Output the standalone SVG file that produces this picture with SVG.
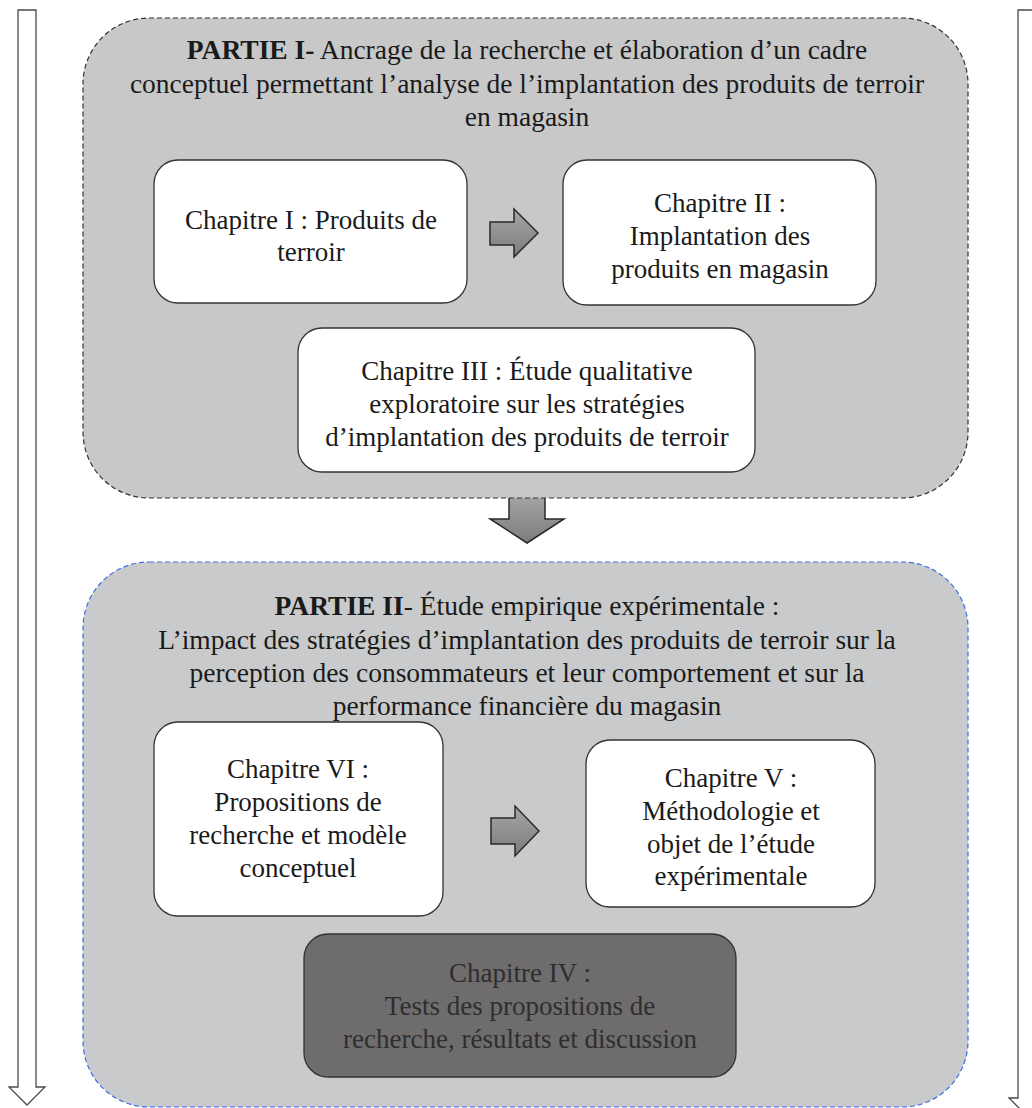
<svg xmlns="http://www.w3.org/2000/svg" width="1032" height="1108" viewBox="0 0 1032 1108">
<defs>
<linearGradient id="ag" x1="0" y1="0" x2="0" y2="1">
<stop offset="0" stop-color="#a5a5a6"/>
<stop offset="1" stop-color="#7c7c7d"/>
</linearGradient>
<style>
text{font-family:"Liberation Serif","Times New Roman",serif;font-size:27px;fill:#1a1a1a;text-anchor:middle}
.t{font-size:27.5px}
.b{font-weight:bold}
.card{fill:#ffffff;stroke:#333333;stroke-width:1.3}
.dark{fill:#6e6c6d;stroke:#333333;stroke-width:1.3}
.arr{fill:url(#ag);stroke:#2a2a2a;stroke-width:1.5}
.side{fill:#ffffff;stroke:#4a4a4a;stroke-width:1.3}
.dt{fill:#2e2e2e}
</style>
</defs>
<rect width="1032" height="1108" fill="#ffffff"/>
<g id="connectors">
<path class="side" d="M18 10 H36 V1087 H45 L27 1105 L9 1087 H18 Z"/>
<path class="side" d="M1040 10 H1018 V1098 H1009 L1027 1116"/>
<path class="arr" d="M509 495 H545 V519 H564 L527 543 L490 519 H509 Z"/>
</g>
<g id="partie1">
<rect x="83" y="18" width="885" height="480" rx="66" ry="66" fill="#c8c8c9" stroke="#333333" stroke-width="1.2" stroke-dasharray="5 3"/>
<text class="t" x="527" y="59"><tspan class="b">PARTIE I-</tspan>  Ancrage de la recherche et élaboration d’un cadre</text>
<text class="t" x="527" y="93">conceptuel permettant l’analyse de l’implantation des produits de terroir</text>
<text class="t" x="527" y="126">en magasin</text>
</g>
<g id="ch1">
<rect class="card" x="154" y="160" width="313" height="143" rx="24"/>
<text x="311" y="229">Chapitre I : Produits de</text>
<text x="311" y="261">terroir</text>
</g>
<g id="arrow1">
<path class="arr" d="M490 222 H514 V209 L538 233 L514 257 V245 H490 Z"/>
</g>
<g id="ch2">
<rect class="card" x="563" y="160" width="313" height="145" rx="24"/>
<text x="720" y="212">Chapitre II :</text>
<text x="720" y="245">Implantation des</text>
<text x="720" y="278">produits en magasin</text>
</g>
<g id="ch3">
<rect class="card" x="298" y="328" width="457" height="144" rx="24"/>
<text x="527" y="380">Chapitre III : Étude qualitative</text>
<text x="527" y="413">exploratoire sur les stratégies</text>
<text x="527" y="446">d’implantation des produits de terroir</text>
</g>
<g id="partie2">
<rect x="83" y="562" width="885" height="545" rx="66" ry="66" fill="#c9cacc" stroke="#3d6ee8" stroke-width="1.2" stroke-dasharray="5 3"/>
<text class="t" x="527" y="615"><tspan class="b">PARTIE II</tspan>- Étude empirique expérimentale :</text>
<text class="t" x="527" y="649">L’impact des stratégies d’implantation des produits de terroir sur la</text>
<text class="t" x="527" y="682">perception des consommateurs et leur comportement et sur la</text>
<text class="t" x="527" y="715">performance financière du magasin</text>
</g>
<g id="ch6">
<rect class="card" x="154" y="722" width="289" height="194" rx="24"/>
<text x="298" y="778">Chapitre VI :</text>
<text x="298" y="811">Propositions de</text>
<text x="298" y="844">recherche et modèle</text>
<text x="298" y="877">conceptuel</text>
</g>
<g id="arrow2">
<path class="arr" d="M491 818 H515 V806 L539 831 L515 856 V844 H491 Z"/>
</g>
<g id="ch5">
<rect class="card" x="586" y="740" width="289" height="167" rx="24"/>
<text x="731" y="787">Chapitre V :</text>
<text x="731" y="820">Méthodologie et</text>
<text x="731" y="853">objet de l’étude</text>
<text x="731" y="885">expérimentale</text>
</g>
<g id="ch4">
<rect class="dark" x="304" y="934" width="432" height="143" rx="24"/>
<text class="dt" x="520" y="982">Chapitre IV :</text>
<text class="dt" x="520" y="1015">Tests des propositions de</text>
<text class="dt" x="520" y="1048">recherche, résultats et discussion</text>
</g>
</svg>
